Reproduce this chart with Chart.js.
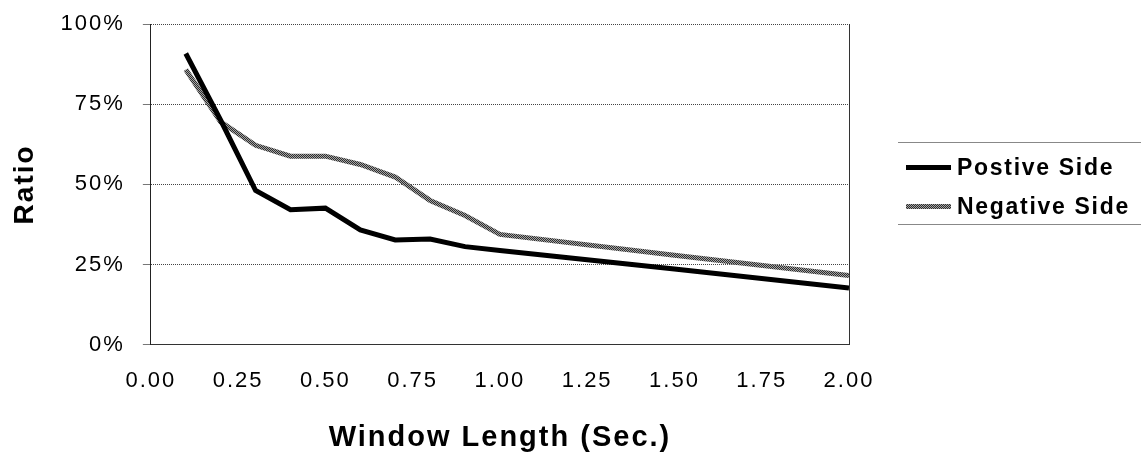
<!DOCTYPE html>
<html>
<head>
<meta charset="utf-8">
<script src="https://cdn.jsdelivr.net/npm/chart.js@4/dist/chart.umd.min.js"></script>
<style>
    body { margin: 0; background: #fff; }
    #wrap { position: relative; width: 1141px; height: 460px; }
    #legend {
        position: absolute; left: 898px; top: 142px; width: 243px; height: 81px;
        border-top: 1px solid #888; border-bottom: 1px solid #888;
        font-family: "Liberation Sans", Arial, sans-serif; font-weight: bold;
        font-size: 23px; letter-spacing: 1.7px; color: #000;
    }
    .item { position: absolute; left: 8px; height: 30px; line-height: 30px; }
    .sample { position: absolute; left: 0; top: 13px; width: 45px; height: 5px; }
    .label { position: absolute; left: 51px; white-space: nowrap; }
</style>
</head>
<body>
<div id="wrap">
    <canvas id="chart" width="1141" height="460"></canvas>
    <div id="legend"></div>
</div>
<script>
// window length in seconds
let windowLen = [0.1, 0.2, 0.3, 0.4, 0.5, 0.6, 0.7, 0.8, 0.9, 1.0, 1.5, 2.0]
// ratio in percent
let positiveSide = [90.8, 70.0, 48.1, 42.1, 42.6, 35.8, 32.7, 33.0, 30.6, 29.4, 23.6, 17.7]
let negativeSide = [85.8, 69.5, 62.2, 58.8, 58.8, 56.2, 52.3, 45.0, 40.3, 34.4, 27.9, 21.6]

let seriesNames = ["Postive Side", "Negative Side"]
let xTicks = [0, 0.25, 0.5, 0.75, 1, 1.25, 1.5, 1.75, 2]
let yTicks = [0, 25, 50, 75, 100]

let fontName = '"Liberation Sans", Arial, sans-serif'

// halftone-ish grey for the negative line
function greyPattern() {
    let c = document.createElement("canvas")
    c.width = 2
    c.height = 2
    let g = c.getContext("2d")
    g.fillStyle = "#a4a4a4"
    g.fillRect(0, 0, 2, 2)
    g.fillStyle = "#2e2e2e"
    g.fillRect(0, 0, 1, 1)
    g.fillRect(1, 1, 1, 1)
    return g.createPattern(c, "repeat")
}

function toPoints(xs, ys) {
    return xs.map((x, i) => ({ x: x, y: ys[i] }))
}

// canvas state is reset on resize, so set spacing again before layout and draw
let spacing = {
    id: "spacing",
    beforeLayout(chart) { chart.ctx.letterSpacing = "2px" },
    beforeDraw(chart) { chart.ctx.letterSpacing = "2px" }
}

let ctx = document.getElementById("chart").getContext("2d")

new Chart(ctx, {
    type: "line",
    data: {
        datasets: [
            {
                label: seriesNames[0],
                data: toPoints(windowLen, positiveSide),
                borderColor: "#000",
                borderWidth: 5,
                pointRadius: 0,
                tension: 0,
                fill: false,
            },
            {
                label: seriesNames[1],
                data: toPoints(windowLen, negativeSide),
                borderColor: greyPattern(),
                borderWidth: 5,
                pointRadius: 0,
                tension: 0,
                fill: false,
            },
        ],
    },
    options: {
        responsive: false,
        animation: false,
        layout: { padding: { left: 4, top: 24, right: 292, bottom: 0 } },
        plugins: {
            legend: { display: false },
            tooltip: { enabled: false },
        },
        scales: {
            x: {
                type: "linear",
                min: 0,
                max: 2,
                afterBuildTicks: (s) => { s.ticks = xTicks.map(v => ({ value: v })) },
                ticks: {
                    color: "#000",
                    padding: 23,
                    maxRotation: 0,
                    font: { family: fontName, size: 22 },
                    callback: (v) => Number(v).toFixed(2),
                },
                grid: { display: false, drawTicks: false },
                border: { display: true, color: "#333", width: 1 },
                title: {
                    display: true,
                    text: "Window Length (Sec.)",
                    color: "#000",
                    font: { family: fontName, size: 29, weight: "bold" },
                    padding: { top: 3, bottom: 5 },
                },
            },
            y: {
                min: 0,
                max: 100,
                afterBuildTicks: (s) => { s.ticks = yTicks.map(v => ({ value: v })) },
                // tick padding would otherwise push the plot top down
                afterFit: (s) => { s.paddingTop = 0; s.paddingBottom = 0 },
                ticks: {
                    color: "#000",
                    padding: 18,
                    font: { family: fontName, size: 22 },
                    callback: (v) => v + "%",
                },
                grid: { color: "#444", lineWidth: 1, tickLength: 8, tickColor: "#777" },
                border: { display: true, color: "#222", width: 1, dash: [1, 1] },
                title: {
                    display: true,
                    text: "Ratio",
                    color: "#000",
                    font: { family: fontName, size: 28, weight: "bold" },
                    padding: { top: 4, bottom: 1 },
                },
            },
            yRight: {
                position: "right",
                min: 0,
                max: 100,
                ticks: { display: false },
                grid: { display: false, drawTicks: false },
                border: { display: true, color: "#333", width: 1, dash: [1, 1] },
            },
        },
    },
    plugins: [spacing],
})

// legend
let legend = document.getElementById("legend")
let samples = [
    "background:#000",
    "background:repeating-conic-gradient(#2e2e2e 0 25%, #a4a4a4 0 50%) 0 0/2px 2px",
]
seriesNames.forEach((name, i) => {
    let item = document.createElement("div")
    item.className = "item"
    item.style.top = (9 + i * 39) + "px"
    item.innerHTML = '<div class="sample" style="' + samples[i] + '"></div><span class="label">' + name + '</span>'
    legend.appendChild(item)
})
</script>
</body>
</html>
